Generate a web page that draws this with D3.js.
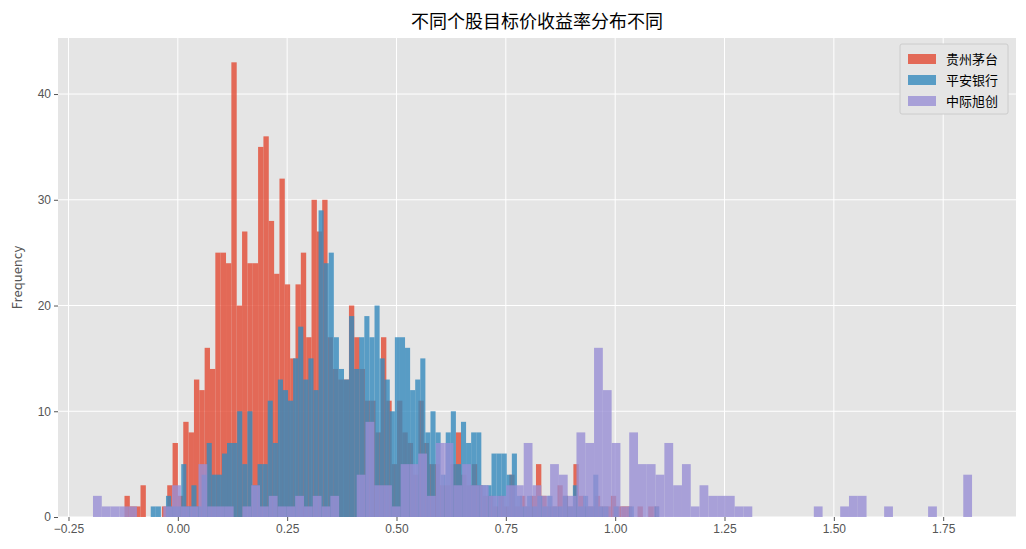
<!DOCTYPE html>
<html><head><meta charset="utf-8">
<script src="https://cdn.jsdelivr.net/npm/d3@7"></script>
<style>body{margin:0;background:#fff;font-family:"Noto Sans CJK SC","DejaVu Sans",sans-serif}</style>
</head><body>
<svg id="chart" width="1026" height="549"></svg>
<script>
// histogram counts, 100 bins each: [start, binWidth] then counts
var maotaiBins = [-0.122, 0.01222]
var maotai = [2,1,1,3,0,0,0,1,3,7, 2,9,8,13,12,16,14,25,25,24, 43,20,27,24,24,35,36,28,23,32,
	22,15,22,25,17,30,27,30,17,14, 13,13,20,17,14,11,11,8,17,11, 5,11,8,7,4,11,7,5,5,3,
	3,5,8,4,3,5,3,2,2,1, 2,1,4,1,2,1,2,5,2,1, 1,3,2,1,5,2,1,1,2,1, 1,2,1,1,1,0,1,0,1,1]
var pinganBins = [-0.062, 0.01163]
var pingan = [1,1,0,2,1,1,5,1,3,1, 4,7,4,4,6,7,7,10,5,10, 3,5,5,11,7,13,12,11,15,18,
	13,15,12,29,24,25,17,14,13,19, 14,17,19,17,20,15,13,10,17,17, 16,12,13,15,8,10,8,4,8,10,
	5,9,7,8,8,3,3,6,6,6, 4,6,2,1,2,1,2,1,2,1, 1,2,1,3,1,2,1,4,1,1, 0,1,0,0,1,0,0,0,0,1]
var zhongjiBins = [-0.194, 0.0201]
var zhongji = [2,1,1,1,1,0,0,0,1,3, 1,1,5,1,1,1,0,1,3,1, 2,1,1,2,1,2,1,2,0,0,
	4,9,3,3,1,5,5,6,2,7, 7,3,5,3,3,2,2,3,3,7, 3,2,5,4,2,8,7,16,12,7,
	1,8,5,5,4,7,3,5,1,3, 2,2,2,1,1,0,0,0,0,0, 0,0,1,0,0,1,2,2,0,0, 1,0,0,0,0,1,0,0,0,4]
var seriesNames = ["贵州茅台", "平安银行", "中际旭创"]
var colors = ["#E24A33", "#348ABD", "#988ED5"]
var xTicks = [-0.25, 0, 0.25, 0.5, 0.75, 1.0, 1.25, 1.5, 1.75]
var yTicks = [0, 10, 20, 30, 40]

var series = [
	{name: seriesNames[0], bins: maotaiBins, counts: maotai},
	{name: seriesNames[1], bins: pinganBins, counts: pingan},
	{name: seriesNames[2], bins: zhongjiBins, counts: zhongji}
]

var svg = d3.select("#chart")
var L = 58, R = 1016, T = 38, B = 517
var x = d3.scaleLinear().domain([-0.274, 1.9165]).range([L, R])
var y = d3.scaleLinear().domain([0, 45.3]).range([B, T])

svg.append("rect").attr("x", L).attr("y", T).attr("width", R - L).attr("height", B - T).attr("fill", "#E5E5E5")

var grid = svg.append("g").attr("stroke", "#fff").attr("stroke-width", 1)
grid.selectAll(".gx").data(xTicks).enter().append("line")
	.attr("x1", d => x(d)).attr("x2", d => x(d)).attr("y1", T).attr("y2", B)
grid.selectAll(".gy").data(yTicks).enter().append("line")
	.attr("x1", L).attr("x2", R).attr("y1", d => y(d)).attr("y2", d => y(d))

series.forEach(function(s, k) {
	var data = s.counts.map(function(c, i) {
		return {x0: s.bins[0] + i * s.bins[1], x1: s.bins[0] + (i + 1) * s.bins[1], n: c}
	})
	svg.append("g").selectAll("rect").data(data.filter(d => d.n > 0)).enter().append("rect")
		.attr("x", d => x(d.x0)).attr("width", d => x(d.x1) - x(d.x0))
		.attr("y", d => y(d.n)).attr("height", d => B - y(d.n))
		.attr("fill", colors[k]).attr("fill-opacity", 0.8)
})

var xa = svg.append("g").attr("transform", "translate(0," + B + ")")
	.call(d3.axisBottom(x).tickValues(xTicks).tickFormat(d3.format(".2f")).tickSize(4))
var ya = svg.append("g").attr("transform", "translate(" + L + ",0)")
	.call(d3.axisLeft(y).tickValues(yTicks).tickSize(4))
;[xa, ya].forEach(function(a) {
	a.select(".domain").remove()
	a.selectAll("line").attr("stroke", "#555")
	a.selectAll("text").attr("fill", "#555").style("font-size", "12px").style("font-family", "inherit")
})

svg.append("text").attr("x", (L + R) / 2).attr("y", 28).attr("text-anchor", "middle")
	.style("font-size", "18px").attr("fill", "#000").text("不同个股目标价收益率分布不同")
svg.append("text").attr("transform", "translate(22," + (T + B) / 2 + ") rotate(-90)")
	.attr("text-anchor", "middle").style("font-size", "13px").attr("fill", "#555").text("Frequency")

var lg = svg.append("g").attr("transform", "translate(900,44)")
lg.append("rect").attr("width", 108).attr("height", 70).attr("fill", "#E5E5E5")
	.attr("stroke", "#ccc").attr("rx", 2)
series.forEach(function(s, k) {
	var g = lg.append("g").attr("transform", "translate(8," + (10 + k * 21) + ")")
	g.append("rect").attr("width", 28).attr("height", 10).attr("fill", colors[k]).attr("fill-opacity", 0.8)
	g.append("text").attr("x", 38).attr("y", 10).style("font-size", "13px").text(s.name)
})
</script>
</body></html>
